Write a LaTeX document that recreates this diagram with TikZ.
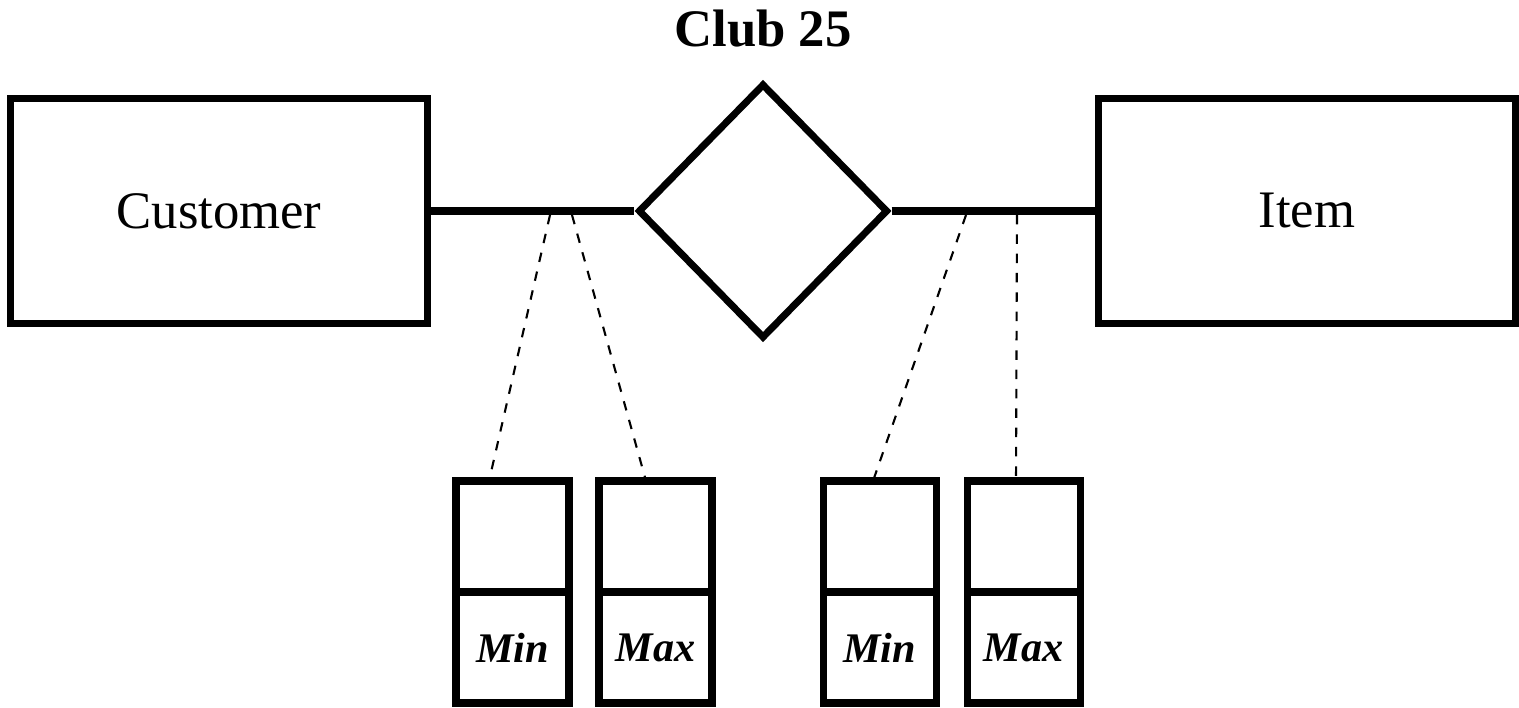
\documentclass[tikz,border=0pt]{standalone}
\usepackage{fontspec}
\setmainfont{Liberation Serif}[BoldFont={Liberation Serif Bold}, ItalicFont={Liberation Serif Italic}, BoldItalicFont={Liberation Serif Bold Italic}]
\usetikzlibrary{shapes.geometric, positioning}

\begin{document}
\begin{tikzpicture}[line width=2pt]
    % Styles for the shapes
    \tikzstyle{entity}=[rectangle, draw, minimum width=4.17cm, minimum height=2.25cm, font=\fontsize{15}{18}\selectfont]
    \tikzstyle{relation}=[diamond, draw, minimum width=2.5cm, minimum height=2.55cm, inner sep=0pt]
    \tikzstyle{slot}=[rectangle, draw, minimum width=1.13cm, minimum height=1.11cm, inner sep=0pt, outer sep=0pt, font=\fontsize{12}{14}\selectfont\bfseries\itshape]
    \tikzstyle{bound}=[line width=0.6pt, dash pattern=on 2.7pt off 2.8pt]

    \useasboundingbox (0,0) rectangle (15.19,7.07);

    % Draw the title
    \node[font=\fontsize{15}{18}\selectfont\bfseries, anchor=base] (title) at (7.63,6.60) {Club 25};

    % Draw the entities and the relationship
    \node[entity] (customer) at (2.19,4.96) {Customer};
    \node[relation] (club) at (7.63,4.96) {};
    \node[entity] (item) at (13.07,4.96) {Item};

    \draw (customer) -- (club);
    \draw (club) -- (item);

    % Draw the min/max boxes
    \foreach \name/\x/\lab in {cmin/5.125/Min, cmax/6.555/Max, imin/8.795/Min, imax/10.235/Max}
    {
        \node[slot] (\name) at (\x,1.705) {};
        \node[slot, below=0pt of \name] (\name lab) {\lab};
    }

    % Draw the dashed lines from the connectors to the boxes
    \foreach \c/\x/\b/\s in {c1/5.50/cmin/-0.235, c2/5.72/cmax/-0.095, c3/9.66/imin/-0.065, c4/10.17/imax/-0.075}
        \draw[bound] (\x,4.92) coordinate (\c) -- ([xshift=\s cm]\b.north);

\end{tikzpicture}
\end{document}
